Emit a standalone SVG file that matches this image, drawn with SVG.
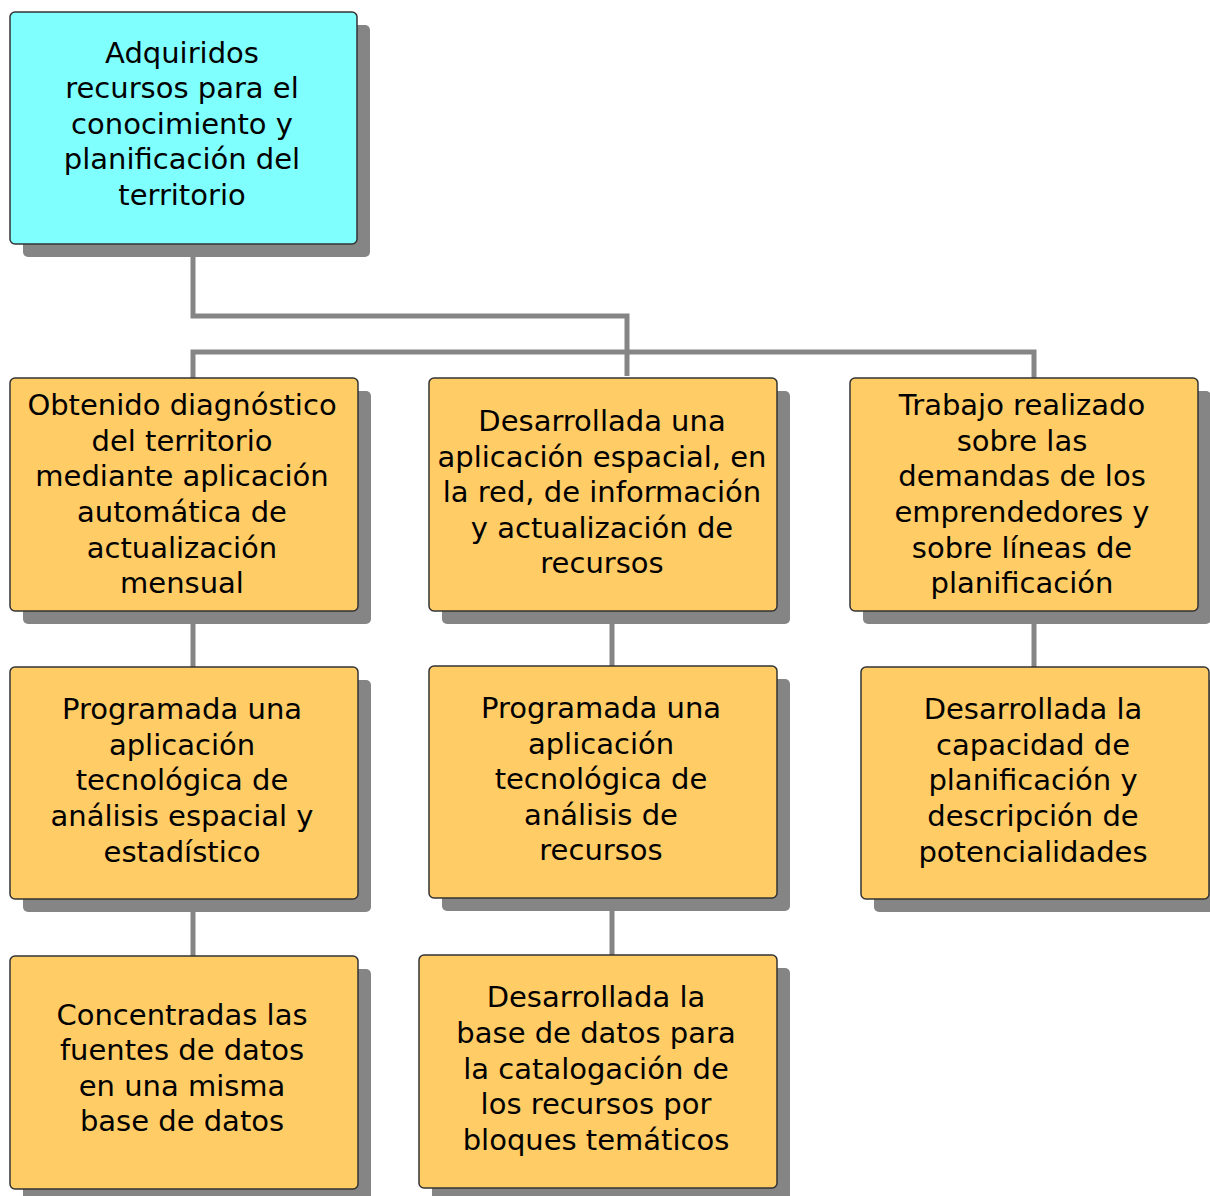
<svg xmlns="http://www.w3.org/2000/svg" width="1210" height="1196" viewBox="0 0 1210 1196">
<style>
.sh{fill:#858585}
.bx{fill:#FFCC66;stroke:#333;stroke-width:1.5}
.top{fill:#80FFFF;stroke:#333;stroke-width:1.5}
text{font-family:"DejaVu Sans",Verdana,sans-serif;font-size:29px;fill:#000;text-anchor:middle}
.cn{fill:none;stroke:#858585;stroke-width:5}
</style>
<rect width="1210" height="1196" fill="#fff"/>
<g id="connectors">
<polyline class="cn" points="193,257 193,316 627,316 627,376"/>
<polyline class="cn" points="193,378 193,352 1034,352 1034,378"/>
<line class="cn" x1="193" y1="624" x2="193" y2="667"/>
<line class="cn" x1="612" y1="624" x2="612" y2="666"/>
<line class="cn" x1="1034" y1="624" x2="1034" y2="667"/>
<line class="cn" x1="193" y1="912" x2="193" y2="956"/>
<line class="cn" x1="612" y1="911" x2="612" y2="955"/>
</g>
<g id="n0">
<rect class="sh" x="23" y="25" width="347" height="232" rx="5"/>
<rect class="top" x="10" y="12" width="347" height="232" rx="5"/>
<text x="182" y="63">Adquiridos</text>
<text x="182" y="98">recursos para el</text>
<text x="182" y="134">conocimiento y</text>
<text x="182" y="169">planificación del</text>
<text x="182" y="205">territorio</text>
</g>
<g id="n1">
<rect class="sh" x="23" y="391" width="348" height="233" rx="5"/>
<rect class="bx" x="10" y="378" width="348" height="233" rx="5"/>
<text x="182" y="415">Obtenido diagnóstico</text>
<text x="182" y="451">del territorio</text>
<text x="182" y="486">mediante aplicación</text>
<text x="182" y="522">automática de</text>
<text x="182" y="558">actualización</text>
<text x="182" y="593">mensual</text>
</g>
<g id="n2">
<rect class="sh" x="442" y="391" width="348" height="233" rx="5"/>
<rect class="bx" x="429" y="378" width="348" height="233" rx="5"/>
<text x="602" y="431">Desarrollada una</text>
<text x="602" y="467">aplicación espacial, en</text>
<text x="602" y="502">la red, de información</text>
<text x="602" y="538">y actualización de</text>
<text x="602" y="573">recursos</text>
</g>
<g id="n3">
<rect class="sh" x="863" y="391" width="348" height="233" rx="5"/>
<rect class="bx" x="850" y="378" width="348" height="233" rx="5"/>
<text x="1022" y="415">Trabajo realizado</text>
<text x="1022" y="451">sobre las</text>
<text x="1022" y="486">demandas de los</text>
<text x="1022" y="522">emprendedores y</text>
<text x="1022" y="558">sobre líneas de</text>
<text x="1022" y="593">planificación</text>
</g>
<g id="n4">
<rect class="sh" x="23" y="680" width="348" height="232" rx="5"/>
<rect class="bx" x="10" y="667" width="348" height="232" rx="5"/>
<text x="182" y="719">Programada una</text>
<text x="182" y="755">aplicación</text>
<text x="182" y="790">tecnológica de</text>
<text x="182" y="826">análisis espacial y</text>
<text x="182" y="862">estadístico</text>
</g>
<g id="n5">
<rect class="sh" x="442" y="679" width="348" height="232" rx="5"/>
<rect class="bx" x="429" y="666" width="348" height="232" rx="5"/>
<text x="601" y="718">Programada una</text>
<text x="601" y="754">aplicación</text>
<text x="601" y="789">tecnológica de</text>
<text x="601" y="825">análisis de</text>
<text x="601" y="860">recursos</text>
</g>
<g id="n6">
<rect class="sh" x="874" y="680" width="348" height="232" rx="5"/>
<rect class="bx" x="861" y="667" width="348" height="232" rx="5"/>
<text x="1033" y="719">Desarrollada la</text>
<text x="1033" y="755">capacidad de</text>
<text x="1033" y="790">planificación y</text>
<text x="1033" y="826">descripción de</text>
<text x="1033" y="862">potencialidades</text>
</g>
<g id="n7">
<rect class="sh" x="23" y="969" width="348" height="233" rx="5"/>
<rect class="bx" x="10" y="956" width="348" height="233" rx="5"/>
<text x="182" y="1025">Concentradas las</text>
<text x="182" y="1060">fuentes de datos</text>
<text x="182" y="1096">en una misma</text>
<text x="182" y="1131">base de datos</text>
</g>
<g id="n8">
<rect class="sh" x="432" y="968" width="358" height="233" rx="5"/>
<rect class="bx" x="419" y="955" width="358" height="233" rx="5"/>
<text x="596" y="1007">Desarrollada la</text>
<text x="596" y="1043">base de datos para</text>
<text x="596" y="1079">la catalogación de</text>
<text x="596" y="1114">los recursos por</text>
<text x="596" y="1150">bloques temáticos</text>
</g>
</svg>
